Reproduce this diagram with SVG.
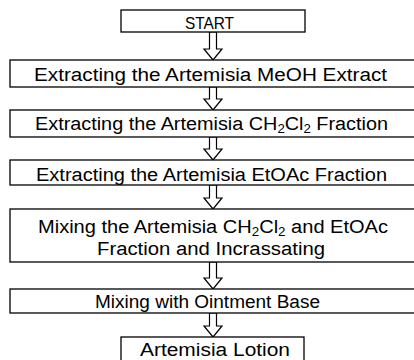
<svg xmlns="http://www.w3.org/2000/svg" width="414" height="360" viewBox="0 0 414 360">
<style>
.box{fill:#fff;stroke:#000;stroke-width:1.3}
.arr{fill:#fff;stroke:#000;stroke-width:1.2;stroke-linejoin:miter}
text{font-family:"Liberation Sans",Arial,sans-serif;font-size:18px;fill:#000}
.sub{font-size:12px}
text.small{font-size:17px}
</style>
<rect width="414" height="360" fill="#fff"/>
<g id="connectors">
<polygon class="arr" points="209.5,32 216.5,32 216.5,49 222,49 213,60 204,49 209.5,49"/>
<polygon class="arr" points="209.5,87 216.5,87 216.5,99 222,99 213,110 204,99 209.5,99"/>
<polygon class="arr" points="209.5,137 216.5,137 216.5,149 222,149 213,160 204,149 209.5,149"/>
<polygon class="arr" points="209.5,185 216.5,185 216.5,198 222,198 213,209 204,198 209.5,198"/>
<polygon class="arr" points="209.5,262 216.5,262 216.5,278 222,278 213,289 204,278 209.5,278"/>
<polygon class="arr" points="209.5,313 216.5,313 216.5,326 222,326 213,337 204,326 209.5,326"/>
</g>
<g id="start">
<rect class="box" x="121" y="10" width="184" height="22"/>
<text class="small" x="185" y="28.5" textLength="49" lengthAdjust="spacingAndGlyphs">START</text>
</g>
<g id="methanol">
<rect class="box" x="10" y="60" width="410" height="27"/>
<text x="34" y="81" textLength="353" lengthAdjust="spacingAndGlyphs">Extracting the Artemisia MeOH Extract</text>
</g>
<g id="dichloromethane">
<rect class="box" x="10" y="110" width="410" height="27"/>
<text x="35" y="130" textLength="353" lengthAdjust="spacingAndGlyphs">Extracting the Artemisia CH<tspan class="sub" dy="3">2</tspan><tspan dy="-3">Cl</tspan><tspan class="sub" dy="3">2</tspan><tspan dy="-3"> Fraction</tspan></text>
</g>
<g id="ethylacetate">
<rect class="box" x="10" y="160" width="410" height="25"/>
<text x="36" y="181" textLength="351" lengthAdjust="spacingAndGlyphs">Extracting the Artemisia EtOAc Fraction</text>
</g>
<g id="mixing">
<rect class="box" x="10" y="209" width="410" height="53"/>
<text x="38" y="233" textLength="350" lengthAdjust="spacingAndGlyphs">Mixing the Artemisia CH<tspan class="sub" dy="3">2</tspan><tspan dy="-3">Cl</tspan><tspan class="sub" dy="3">2</tspan><tspan dy="-3"> and EtOAc</tspan></text>
<text x="97" y="255" textLength="228" lengthAdjust="spacingAndGlyphs">Fraction and Incrassating</text>
</g>
<g id="ointment">
<rect class="box" x="10" y="289" width="410" height="24"/>
<text x="95" y="308" textLength="225" lengthAdjust="spacingAndGlyphs">Mixing with Ointment Base</text>
</g>
<g id="lotion">
<rect class="box" x="121" y="337" width="183" height="30"/>
<text x="140" y="356" textLength="150" lengthAdjust="spacingAndGlyphs">Artemisia Lotion</text>
</g>
</svg>
